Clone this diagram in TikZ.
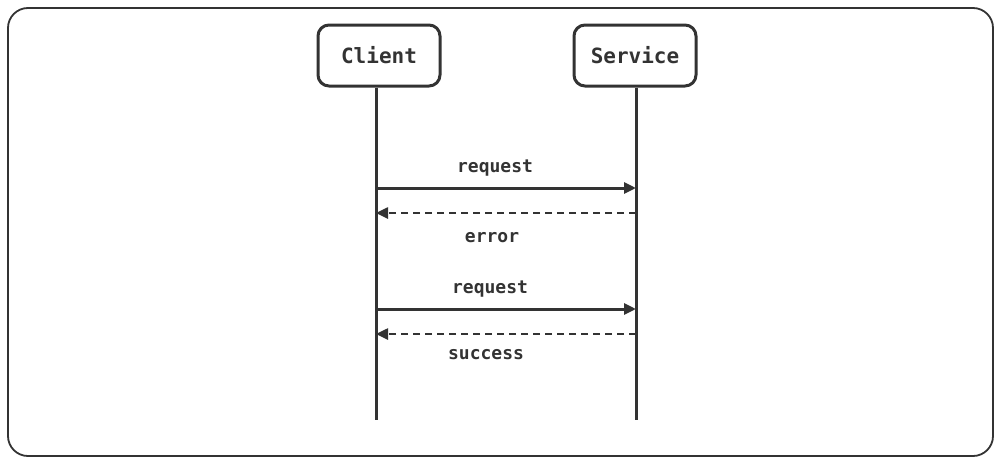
\documentclass[tikz,border=0pt]{standalone}
\usepackage{fontspec}
\setmonofont{DejaVu Sans Mono}
\usetikzlibrary{arrows.meta}
\definecolor{ink}{HTML}{333333}
\tikzset{
	actor/.style={draw=ink, line width=3pt, rounded corners=11pt, minimum width=122pt, minimum height=61pt, inner sep=0pt, text=ink, font=\ttfamily\bfseries\fontsize{21}{25}\selectfont},
	lifeline/.style={draw=ink, line width=3pt},
	call/.style={draw=ink, line width=3pt, -{Triangle[length=12pt,width=11pt]}},
	reply/.style={call, line width=2.5pt, dash pattern=on 7pt off 5pt},
	msg/.style={text=ink, inner sep=0pt, font=\ttfamily\bfseries\fontsize{18}{22}\selectfont}
}
\begin{document}
\begin{tikzpicture}[x=1pt, y=-1pt]
		%%%%% START %%%%%
		
		\useasboundingbox (0, 0) rectangle (1000, 463);
		\draw[draw=ink, line width=1.8pt, rounded corners=20pt] (8, 8) rectangle (993, 456);
		
		\node[actor] (client) at (379, 55.5) {Client};
		\node[actor] (service) at (635, 55.5) {Service};
		
		\coordinate (clientEnd) at (376, 420);
		\coordinate (serviceEnd) at (636, 420);
		\draw[lifeline] (client.south -| clientEnd) -- (clientEnd);
		\draw[lifeline] (service.south -| serviceEnd) -- (serviceEnd);
		
		\coordinate (c1) at (376, 188);
		\coordinate (s1) at (636, 188);
		\coordinate (c2) at (376, 213);
		\coordinate (s2) at (636, 213);
		\coordinate (c3) at (376, 309);
		\coordinate (s3) at (636, 309);
		\coordinate (c4) at (376, 334);
		\coordinate (s4) at (636, 334);
		
		\draw[call] (c1) -- (s1);
		\draw[reply] (s2) -- (c2);
		\draw[call] (c3) -- (s3);
		\draw[reply] (s4) -- (c4);
		
		\node[msg] (req1) at (495, 168.5) {request};
		\node[msg] (err) at (492, 237.5) {error};
		\node[msg] (req2) at (490, 289.5) {request};
		\node[msg] (ok) at (486, 354.5) {success};
		
		%%%%% END %%%%%
\end{tikzpicture}
\end{document}
